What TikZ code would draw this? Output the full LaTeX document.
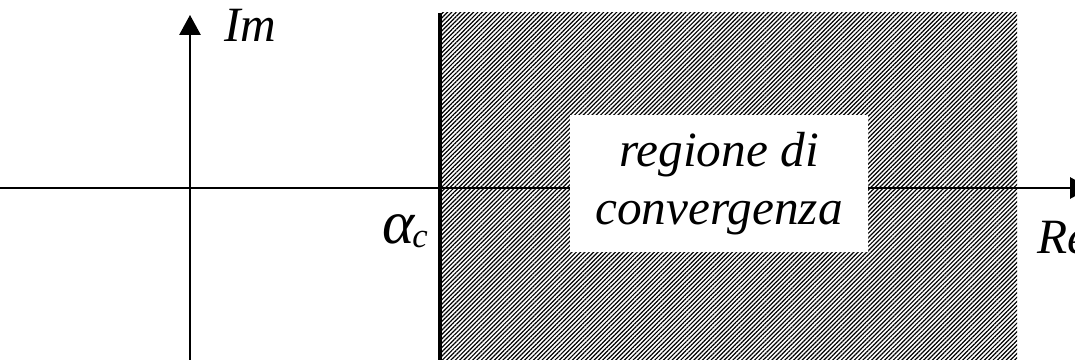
\documentclass[tikz,border=0pt]{standalone}
\usepackage{fontspec}
\setmainfont{Liberation Serif}
\usepackage{tikz}
\usetikzlibrary{arrows.meta,patterns.meta}

\begin{document}
\begin{tikzpicture}[
    x=0.75pt,y=-0.75pt,
    >={Triangle[length=15pt,width=16pt]},
    axis/.style={line width=1.4pt,->},
    lbl/.style={inner sep=0pt,font=\fontsize{37}{44}\selectfont\itshape},
    hatch/.style={pattern={Lines[angle=45,distance=2.3pt,line width=0.9pt]}}]
  \useasboundingbox (0,0) rectangle (1075,360);
  % ---- shaded half plane ----
  \fill[hatch] (440,13) rectangle (1017,360);
  % ---- axes ----
  \coordinate (o) at (190,188);
  \coordinate (west) at (0,188);
  \coordinate (east) at (1090,188);
  \coordinate (south) at (190,360);
  \coordinate (north) at (190,15);
  \draw[axis] (west) -- (east);
  \draw[axis] (south) -- (north);
  % ---- abscissa of convergence ----
  \coordinate (ac) at (440,13);
  \coordinate (acb) at (440,360);
  \draw[line width=3pt] (ac) -- (acb);
  % ---- labels ----
  \node[lbl,fill=white,minimum width=298*0.75pt,minimum height=137*0.75pt,
        align=center] (roc) at (719,183.5) {regione di\\convergenza};
  \node[lbl,anchor=base west] (im) at (224,42) {Im};
  \node[lbl,anchor=base west] (re) at (1037,253) {Re};
  \node[lbl,anchor=base east] (alpha) at (428,243)
    {{\fontsize{46}{50}\selectfont α}\kern-2pt\raisebox{-3pt}{\fontsize{26}{28}\selectfont c}};
\end{tikzpicture}
\end{document}
